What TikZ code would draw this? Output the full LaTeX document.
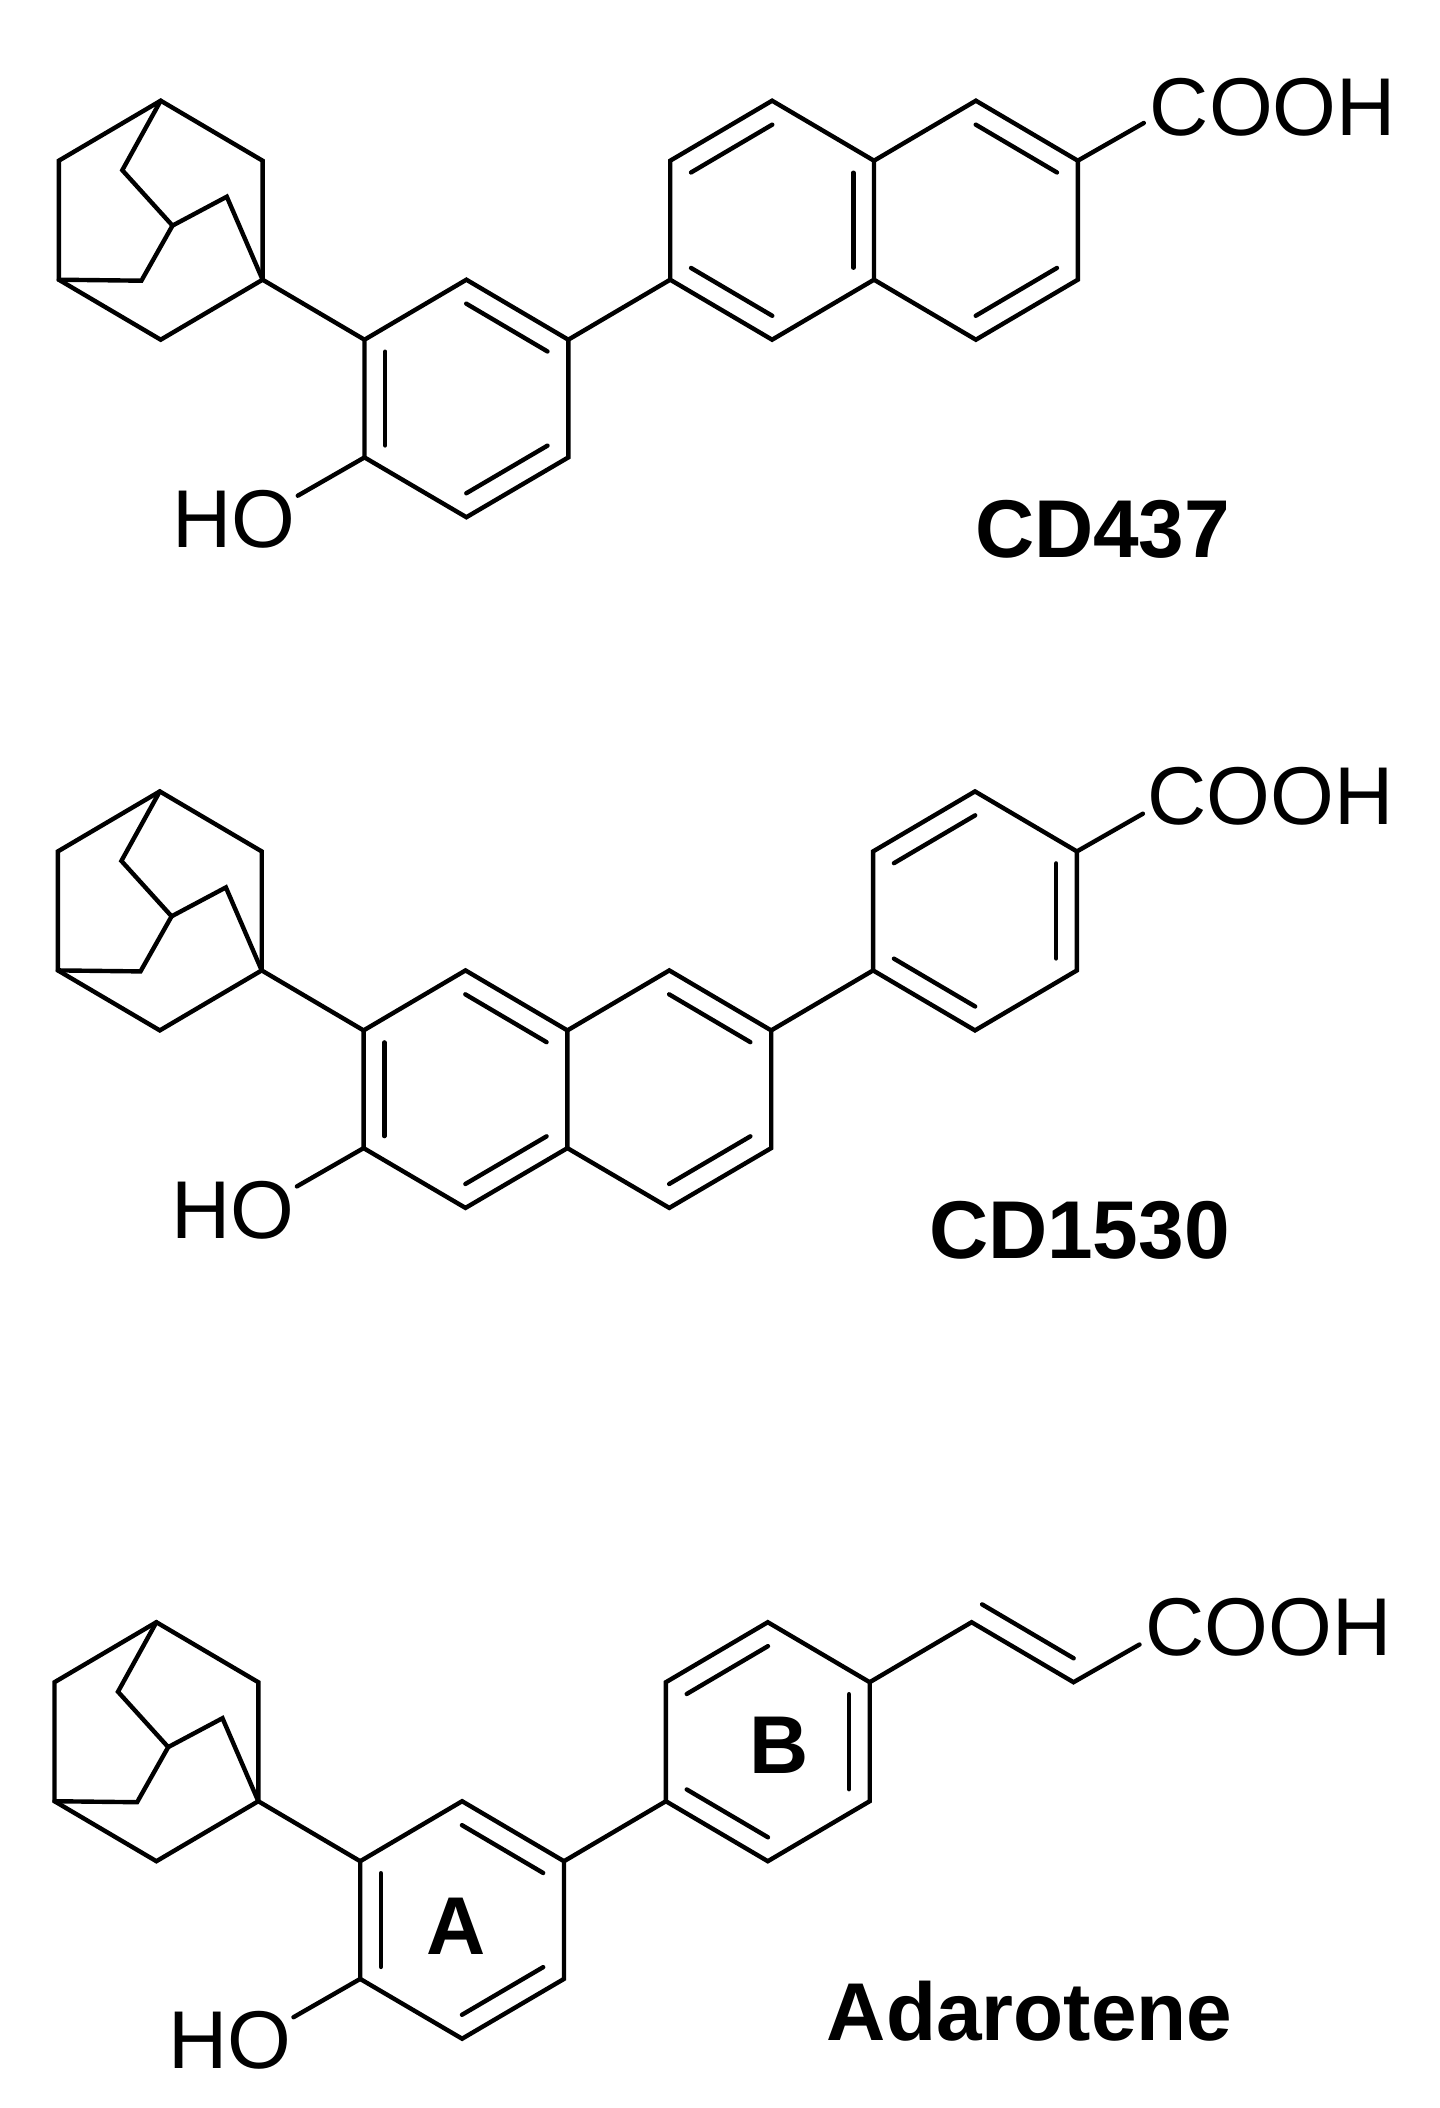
\documentclass[tikz,border=0pt]{standalone}
\usepackage{fontspec}
\setmainfont{Liberation Sans}
\usetikzlibrary{calc}
\tikzset{
  bond/.style={line width=4.4bp, line cap=round, line join=miter, miter limit=10, black},
  atomlabel/.style={anchor=base west, inner sep=0pt, outer sep=0pt, font=\fontsize{82.3}{90}\selectfont},
  namelabel/.style={anchor=base west, inner sep=0pt, outer sep=0pt, font=\fontsize{82.3}{90}\selectfont\bfseries},
}
% lattice of ring vertices: prefix, x of column 0, y of row 0
\newcommand\lattice[3]{%
  \foreach \k in {0,...,10}{%
    \foreach \r/\h in {0/0,1/60,2/179,3/239,4/356.7,5/416.5}{%
      \coordinate (#1c\k r\r) at ({#2+\k*101.9},{#3+\h});
    }%
  }%
  \coordinate (#1i1) at ({#2+63.5},{#3+69.5});
  \coordinate (#1i2) at ({#2+113.7},{#3+124.9});
  \coordinate (#1i3) at ({#2+168},{#3+96});
  \coordinate (#1i4) at ({#2+82.6},{#3+180});
  \coordinate (#1oh) at ({#2+239},{#3+395});
  \coordinate (#1acid) at ({#2+1085},{#3+22.3});
}
% cage, its link to the ring and the phenol ring (common to all three)
\newcommand\cage[1]{%
  \draw[bond] (#1c1r0) -- (#1c0r1) -- (#1c0r2) -- (#1c1r3) -- (#1c2r2) -- (#1c2r1) -- cycle;
  \draw[bond] (#1c1r0) -- (#1i1) -- (#1i2) -- (#1i3) -- (#1c2r2);
  \draw[bond] (#1i2) -- (#1i4) -- (#1c0r2);
  \draw[bond] (#1c2r2) -- (#1c3r3);
  \draw[bond] (#1c3r3) -- (#1c4r2) -- (#1c5r3) -- (#1c5r4) -- (#1c4r5) -- (#1c3r4) -- cycle;
  \dblbond{#1c3r4}{#1c3r3}
  \dblbond{#1c4r2}{#1c5r3}
  \dblbond{#1c5r4}{#1c4r5}
  \draw[bond] (#1c3r4) -- (#1oh);
}
% inner line of a ring double bond; the ring lies right of the travel P to Q
\newcommand\dblbond[2]{%
  \draw[bond] ($(#1)!12bp!(#2)!20.7bp!-90:(#2)$) -- ($(#2)!12bp!(#1)!20.7bp!90:(#1)$);
}
\begin{document}
\begin{tikzpicture}[x=1bp,y=-1bp]
\useasboundingbox (0,0) rectangle (1440,2108);

% ---------- CD437 ----------
\lattice{a}{58.8}{100.7}
\cage{a}
\draw[bond] (ac5r3) -- (ac6r2);
\draw[bond] (ac6r2) -- (ac6r1) -- (ac7r0) -- (ac8r1) -- (ac8r2) -- (ac7r3) -- cycle;
\draw[bond] (ac8r1) -- (ac9r0) -- (ac10r1) -- (ac10r2) -- (ac9r3) -- (ac8r2);
\dblbond{ac6r1}{ac7r0}
\dblbond{ac7r3}{ac6r2}
\dblbond{ac8r1}{ac8r2}
\dblbond{ac9r0}{ac10r1}
\dblbond{ac10r2}{ac9r3}
\draw[bond] (ac10r1) -- (aacid);
\node[atomlabel] (acooh) at (1149.8,135) {COOH};
\node[atomlabel] (aho) at (172.5,547.5) {HO};
\node[namelabel] (aname) at (975,557.1) {CD437};

% ---------- CD1530 ----------
\lattice{b}{57.9}{791.4}
\cage{b}
\draw[bond] (bc5r3) -- (bc6r2) -- (bc7r3) -- (bc7r4) -- (bc6r5) -- (bc5r4);
\dblbond{bc6r2}{bc7r3}
\dblbond{bc7r4}{bc6r5}
\draw[bond] (bc7r3) -- (bc8r2);
\draw[bond] (bc8r2) -- (bc8r1) -- (bc9r0) -- (bc10r1) -- (bc10r2) -- (bc9r3) -- cycle;
\dblbond{bc8r1}{bc9r0}
\dblbond{bc9r3}{bc8r2}
\dblbond{bc10r1}{bc10r2}
\draw[bond] (bc10r1) -- (bacid);
\node[atomlabel] (bcooh) at (1147.5,824.9) {COOH};
\node[atomlabel] (bho) at (171.2,1238.2) {HO};
\node[namelabel] (bname) at (929,1258.8) {CD1530};

% ---------- Adarotene ----------
\lattice{c}{54.5}{1622.2}
\cage{c}
\draw[bond] (cc5r3) -- (cc6r2);
\draw[bond] (cc6r2) -- (cc6r1) -- (cc7r0) -- (cc8r1) -- (cc8r2) -- (cc7r3) -- cycle;
\dblbond{cc6r1}{cc7r0}
\dblbond{cc7r3}{cc6r2}
\dblbond{cc8r1}{cc8r2}
\draw[bond] (cc8r1) -- (cc9r0) -- (cc10r1) -- (cacid);
\draw[bond] ($(cc9r0)!20.7bp!90:(cc10r1)$) -- ($(cc10r1)!12bp!(cc9r0)!20.7bp!-90:(cc9r0)$);
\node[atomlabel] (ccooh) at (1145.5,1655.8) {COOH};
\node[atomlabel] (cho) at (168.3,2068) {HO};
\node[namelabel] (cname) at (826.9,2040.8) {Adarotene};
\node[namelabel] (cringa) at (426.5,1954.8) {A};
\node[namelabel] (cringb) at (749.9,1773.5) {B};
\end{tikzpicture}
\end{document}
